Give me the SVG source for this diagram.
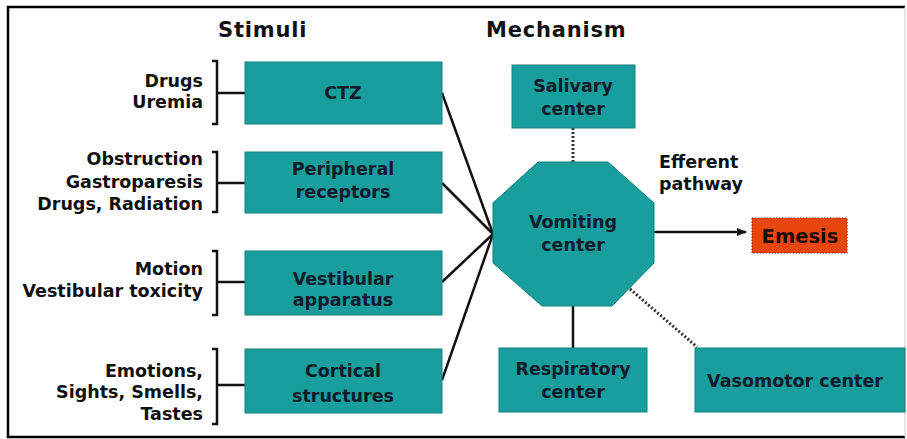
<svg xmlns="http://www.w3.org/2000/svg" width="907" height="439" viewBox="0 0 907 439">
<style>
  .title { font-family: "DejaVu Sans", "Liberation Sans", sans-serif; font-weight: bold; font-size: 21px; letter-spacing: 0.8px; fill: #111; }
  .lbl { font-family: "DejaVu Sans", "Liberation Sans", sans-serif; font-weight: bold; font-size: 17.5px; fill: #111; }
  .box { fill: #189e9c; stroke: #14807e; stroke-width: 1; }
  .bt { font-family: "DejaVu Sans", "Liberation Sans", sans-serif; font-weight: bold; font-size: 17.5px; fill: #0f1a2a; text-anchor: middle; }
  .ln { stroke: #111; stroke-width: 2.5; fill: none; }
  .dot { stroke: #333; stroke-width: 3; stroke-dasharray: 2 2; fill: none; }
</style>
<defs>
  <marker id="ah" markerWidth="10" markerHeight="10" refX="9" refY="5" orient="auto" markerUnits="userSpaceOnUse">
    <path d="M0,1 L10,5 L0,9 Z" fill="#111"/>
  </marker>
</defs>
<rect x="0" y="0" width="907" height="439" fill="#fff"/>
<path d="M905,7 L8,7 L8,437 L905,437" stroke="#000" stroke-width="2.5" fill="none"/>
<line x1="905" y1="7" x2="905" y2="437" stroke="#ccc" stroke-width="1"/>

<text class="title" x="218" y="37">Stimuli</text>
<text class="title" x="486" y="37">Mechanism</text>

<g id="connectors">
  <path class="ln" d="M212,61 L217,61 L217,124 L212,124 M217,93 L245,93"/>
  <path class="ln" d="M212,152 L217,152 L217,212 L212,212 M217,183 L245,183"/>
  <path class="ln" d="M212,251 L217,251 L217,315 L212,315 M217,282 L245,282"/>
  <path class="ln" d="M212,349 L217,349 L217,424 L212,424 M217,385 L245,385"/>
  <line class="ln" x1="442" y1="93" x2="493" y2="234"/>
  <line class="ln" x1="442" y1="183" x2="493" y2="234"/>
  <line class="ln" x1="442" y1="282" x2="493" y2="234"/>
  <line class="ln" x1="442" y1="380" x2="493" y2="234"/>
  <line class="dot" x1="573" y1="128" x2="573" y2="162"/>
  <line class="ln" x1="573" y1="306" x2="573" y2="348"/>
  <line class="dot" x1="630" y1="289" x2="697" y2="347"/>
  <line class="ln" x1="654" y1="232" x2="746" y2="232" marker-end="url(#ah)"/>
</g>

<g id="stim-ctz">
  <text class="lbl" x="203" y="87" text-anchor="end">Drugs</text>
  <text class="lbl" x="203" y="108" text-anchor="end">Uremia</text>
</g>
<g id="stim-peripheral">
  <text class="lbl" x="203" y="165" text-anchor="end">Obstruction</text>
  <text class="lbl" x="203" y="188" text-anchor="end">Gastroparesis</text>
  <text class="lbl" x="203" y="210" text-anchor="end">Drugs, Radiation</text>
</g>
<g id="stim-vestibular">
  <text class="lbl" x="203" y="275" text-anchor="end">Motion</text>
  <text class="lbl" x="203" y="297" text-anchor="end">Vestibular toxicity</text>
</g>
<g id="stim-cortical">
  <text class="lbl" x="203" y="377" text-anchor="end">Emotions,</text>
  <text class="lbl" x="203" y="398" text-anchor="end">Sights, Smells,</text>
  <text class="lbl" x="203" y="420" text-anchor="end">Tastes</text>
</g>

<g id="ctz">
  <rect class="box" x="245" y="62" width="197" height="62"/>
  <text class="bt" x="343" y="99">CTZ</text>
</g>
<g id="peripheral">
  <rect class="box" x="245" y="152" width="197" height="61"/>
  <text class="bt" x="343" y="175">Peripheral</text>
  <text class="bt" x="343" y="198">receptors</text>
</g>
<g id="vestibular">
  <rect class="box" x="245" y="251" width="197" height="64"/>
  <text class="bt" x="343" y="285">Vestibular</text>
  <text class="bt" x="343" y="306">apparatus</text>
</g>
<g id="cortical">
  <rect class="box" x="245" y="349" width="197" height="64"/>
  <text class="bt" x="343" y="377">Cortical</text>
  <text class="bt" x="343" y="402">structures</text>
</g>

<g id="salivary">
  <rect class="box" x="512" y="65" width="123" height="63"/>
  <text class="bt" x="573" y="92">Salivary</text>
  <text class="bt" x="573" y="115">center</text>
</g>
<g id="vomiting">
  <polygon class="box" points="538,162 608,162 654,203 654,263 612,306 542,306 493,263 493,203"/>
  <text class="bt" x="573" y="228">Vomiting</text>
  <text class="bt" x="573" y="251">center</text>
</g>
<g id="efferent">
  <text class="lbl" x="659" y="168">Efferent</text>
  <text class="lbl" x="659" y="190">pathway</text>
</g>
<g id="emesis">
  <rect x="752" y="218" width="95" height="35" fill="#e8450f" stroke="#8a2a08" stroke-width="1.2" stroke-dasharray="1.5 1.5"/>
  <text x="800" y="243" text-anchor="middle" font-family="DejaVu Sans, Liberation Sans, sans-serif" font-weight="bold" font-size="19.5" fill="#1a0a05">Emesis</text>
</g>
<g id="respiratory">
  <rect class="box" x="499" y="348" width="148" height="64"/>
  <text class="bt" x="573" y="375">Respiratory</text>
  <text class="bt" x="573" y="398">center</text>
</g>
<g id="vasomotor">
  <rect class="box" x="695" y="348" width="210" height="64"/>
  <text class="bt" x="795" y="387">Vasomotor center</text>
</g>
</svg>
